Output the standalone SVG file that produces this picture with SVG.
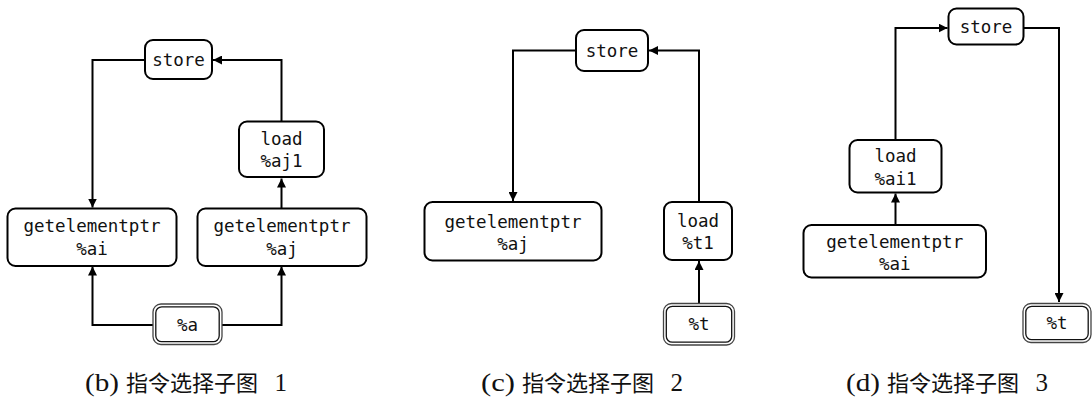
<svg xmlns="http://www.w3.org/2000/svg" width="1092" height="398" viewBox="0 0 1092 398">
<style>
.box{fill:#fff;stroke:#000;stroke-width:2}
.dbo{fill:#fff;stroke:#444;stroke-width:1.3}
.dbi{fill:none;stroke:#111;stroke-width:1.3}
.t{font-family:"DejaVu Sans Mono","Liberation Mono",monospace;font-size:17.5px;fill:#111;text-anchor:middle}
.lat{font-family:"Liberation Serif",serif;font-size:25px;fill:#111}
.cjk{font-family:"Noto Sans CJK SC",sans-serif;font-size:22px;fill:#111}
.e{fill:none;stroke:#000;stroke-width:2}
</style>
<defs>
<marker id="ah" markerWidth="9" markerHeight="9" refX="9" refY="4.5" orient="auto" markerUnits="userSpaceOnUse">
<path d="M0,0 L9,4.5 L0,9 z" fill="#000"/>
</marker>
</defs>
<rect width="1092" height="398" fill="#fff"/>

<g id="connectors">
<!-- figure b -->
<path class="e" d="M145,60 H92.5 V207.5" marker-end="url(#ah)"/>
<path class="e" d="M281.5,121.5 V60 H213" marker-end="url(#ah)"/>
<path class="e" d="M281.5,208.5 V178.5" marker-end="url(#ah)"/>
<path class="e" d="M153,325 H92.5 V266.5" marker-end="url(#ah)"/>
<path class="e" d="M222,325 H281.5 V266.5" marker-end="url(#ah)"/>
<!-- figure c -->
<path class="e" d="M576,50.5 H513 V201" marker-end="url(#ah)"/>
<path class="e" d="M699,202 V50.5 H649" marker-end="url(#ah)"/>
<path class="e" d="M699,303.5 V261" marker-end="url(#ah)"/>
<!-- figure d -->
<path class="e" d="M895.5,225 V193.5" marker-end="url(#ah)"/>
<path class="e" d="M895.5,140 V28 H947.5" marker-end="url(#ah)"/>
<path class="e" d="M1023.5,28 H1059 V302" marker-end="url(#ah)"/>
</g>

<!-- figure b nodes -->
<g id="b_store"><rect class="box" x="145" y="40" width="67" height="39" rx="8"/><text class="t" x="178.5" y="65.5">store</text></g>
<g id="b_load"><rect class="box" x="239" y="121.5" width="85" height="55.5" rx="8"/><text class="t" x="281.5" y="145">load</text><text class="t" x="281.5" y="167">%aj1</text></g>
<g id="b_gep_ai"><rect class="box" x="7.5" y="208.5" width="169" height="57.5" rx="8"/><text class="t" x="92" y="232">getelementptr</text><text class="t" x="92" y="255">%ai</text></g>
<g id="b_gep_aj"><rect class="box" x="197.5" y="208.5" width="169" height="57.5" rx="8"/><text class="t" x="282" y="232">getelementptr</text><text class="t" x="282" y="255">%aj</text></g>
<g id="b_a"><rect class="dbo" x="153" y="304" width="69" height="40.5" rx="8"/><rect class="dbi" x="155.8" y="306.8" width="63.4" height="34.9" rx="6"/><text class="t" x="187.5" y="330.5">%a</text></g>

<!-- figure c nodes -->
<g id="c_store"><rect class="box" x="576" y="30" width="72" height="41" rx="8"/><text class="t" x="612" y="56.5">store</text></g>
<g id="c_gep_aj"><rect class="box" x="424.5" y="202" width="177" height="58.5" rx="8"/><text class="t" x="513" y="228">getelementptr</text><text class="t" x="513" y="250">%aj</text></g>
<g id="c_load"><rect class="box" x="664" y="202" width="68" height="58" rx="8"/><text class="t" x="698" y="227">load</text><text class="t" x="698" y="249">%t1</text></g>
<g id="c_t"><rect class="dbo" x="663.5" y="303.5" width="71" height="41.5" rx="8"/><rect class="dbi" x="666.3" y="306.3" width="65.4" height="35.9" rx="6"/><text class="t" x="699" y="330">%t</text></g>

<!-- figure d nodes -->
<g id="d_store"><rect class="box" x="948.5" y="8.5" width="75" height="36" rx="8"/><text class="t" x="986" y="33">store</text></g>
<g id="d_load"><rect class="box" x="849.5" y="140" width="92" height="52.5" rx="8"/><text class="t" x="895.5" y="162">load</text><text class="t" x="895.5" y="185">%ai1</text></g>
<g id="d_gep_ai"><rect class="box" x="803.5" y="225" width="182.5" height="52.5" rx="8"/><text class="t" x="894.7" y="248">getelementptr</text><text class="t" x="894.7" y="270">%ai</text></g>
<g id="d_t"><rect class="dbo" x="1023" y="303.5" width="68" height="39" rx="8"/><rect class="dbi" x="1025.8" y="306.3" width="62.4" height="33.4" rx="6"/><text class="t" x="1057" y="328.5">%t</text></g>

<g id="captions">
<text class="lat" x="85" y="391" textLength="34" lengthAdjust="spacingAndGlyphs">(b)</text>
<text class="cjk" x="126" y="391">指令选择子图</text>
<text class="lat" x="287" y="391" text-anchor="end">1</text>
<text class="lat" x="481" y="391" textLength="34" lengthAdjust="spacingAndGlyphs">(c)</text>
<text class="cjk" x="522" y="391">指令选择子图</text>
<text class="lat" x="683" y="391" text-anchor="end">2</text>
<text class="lat" x="846" y="391" textLength="34" lengthAdjust="spacingAndGlyphs">(d)</text>
<text class="cjk" x="887" y="391">指令选择子图</text>
<text class="lat" x="1048" y="391" text-anchor="end">3</text>
</g>
</svg>
